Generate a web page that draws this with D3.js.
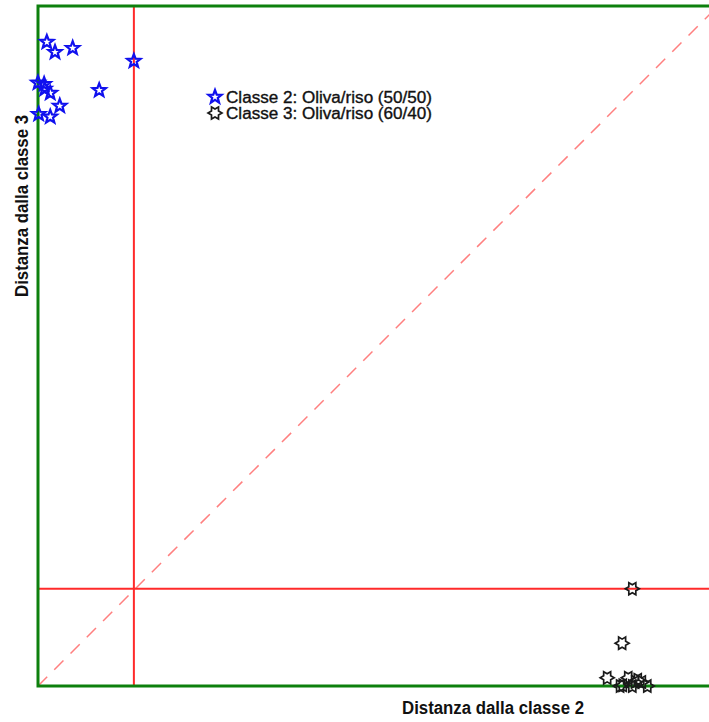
<!DOCTYPE html>
<html lang="it">
<head>
    <meta charset="UTF-8">
    <script src="https://cdn.jsdelivr.net/npm/d3@7"></script>
    <title>Distanza dalle classi</title>
    <style>
        html,
        body {
            margin: 0px;
            padding: 0px;
            background-color: #ffffff;
            font-family: "Liberation Sans", Arial, sans-serif;
        }
        svg { display: block; }
    </style>
</head>
<body>
    <div id="chart"></div>

    <script>
        // distances of the class 2 samples (x: from class 2, y: from class 3)
        let class2_x = [0.13, 0.25, 0.51, 1.41, 0.00, 0.09, 0.10, 0.18, 0.90, 0.32, 0.01, 0.18];
        let class2_y = [9.47, 9.32, 9.38, 9.19, 8.87, 8.85, 8.78, 8.72, 8.76, 8.53, 8.41, 8.37];

        // distances of the class 3 samples
        let class3_x = [8.74, 8.59, 8.37, 8.60, 8.68, 8.78, 8.88, 8.96, 8.56, 8.74, 8.82];
        let class3_y = [1.43, 0.63, 0.12, 0.01, 0.12, 0.06, 0.06, 0.00, 0.00, 0.00, 0.09];

        // critical distances
        let limit_2 = 1.41;
        let limit_3 = 1.43;

        let legend_labels = ['Classe 2: Oliva/riso (50/50)', 'Classe 3: Oliva/riso (60/40)'];

        let width = 709;
        let height = 722;

        let margin = { top: 6, left: 38, bottom: 36 };
        let side = height - margin.top - margin.bottom;   // square axes, cut off at the right

        let svg = d3.select('#chart').append('svg').attr('width', width).attr('height', height);

        let x = d3.scaleLinear().domain([0, 10]).range([margin.left, margin.left + side]);
        let y = d3.scaleLinear().domain([0, 10]).range([margin.top + side, margin.top]);

        // star outline with n points
        let star = function(n, R, ratio, start) {
            let pts = [];
            for (let i = 0; i < 2 * n; i++) {
                let a = start + i * Math.PI / n;
                let r = i % 2 === 0 ? R : R * ratio;
                pts.push([r * Math.cos(a), r * Math.sin(a)]);
            }
            return d3.line()(pts) + 'Z';
        };
        let pentagram = star(5, 7, 0.42, -Math.PI / 2);
        let hexagram = star(6, 7, 0.577, 0);

        // diagonal y = x
        svg.append('line')
            .attr('x1', x(0)).attr('y1', y(0))
            .attr('x2', x(10)).attr('y2', y(10))
            .attr('stroke', '#ff7f7f')
            .attr('stroke-width', 1.5)
            .attr('stroke-dasharray', '13,10');

        // limits
        svg.append('line')
            .attr('x1', x(limit_2)).attr('x2', x(limit_2))
            .attr('y1', y(0)).attr('y2', y(10))
            .attr('stroke', '#ff2a2a').attr('stroke-width', 2);
        svg.append('line')
            .attr('x1', x(0)).attr('x2', x(10))
            .attr('y1', y(limit_3)).attr('y2', y(limit_3))
            .attr('stroke', '#ff2a2a').attr('stroke-width', 2);

        // frame
        svg.append('rect')
            .attr('x', x(0)).attr('y', y(10))
            .attr('width', x(10) - x(0)).attr('height', y(0) - y(10))
            .attr('fill', 'none')
            .attr('stroke', '#0d800d')
            .attr('stroke-width', 3);

        let class2 = class2_x.map((d, i) => ({ x: d, y: class2_y[i] }));
        let class3 = class3_x.map((d, i) => ({ x: d, y: class3_y[i] }));

        svg.selectAll('.c2')
            .data(class2)
            .join('path')
            .attr('class', 'c2')
            .attr('d', pentagram)
            .attr('transform', d => `translate(${x(d.x)},${y(d.y)})`)
            .attr('fill', 'none')
            .attr('stroke', '#1010ee')
            .attr('stroke-width', 2.2);

        svg.selectAll('.c3')
            .data(class3)
            .join('path')
            .attr('class', 'c3')
            .attr('d', hexagram)
            .attr('transform', d => `translate(${x(d.x)},${y(d.y)})`)
            .attr('fill', 'none')
            .attr('stroke', '#1a1a1a')
            .attr('stroke-width', 1.7);

        // legend
        let legend = svg.append('g').attr('transform', 'translate(215,97)');
        legend.append('path').attr('d', pentagram)
            .attr('fill', 'none').attr('stroke', '#1010ee').attr('stroke-width', 2.2);
        legend.append('path').attr('d', hexagram).attr('transform', 'translate(0,16)')
            .attr('fill', 'none').attr('stroke', '#1a1a1a').attr('stroke-width', 1.7);
        legend.selectAll('text')
            .data(legend_labels)
            .join('text')
            .attr('x', 11)
            .attr('y', (d, i) => 6 + i * 16)
            .attr('font-size', '16px')
            .attr('textLength', 206)
            .attr('lengthAdjust', 'spacingAndGlyphs')
            .attr('fill', '#111')
            .attr('stroke', '#111')
            .attr('stroke-width', 0.35)
            .text(d => d);

        // axis labels
        svg.append('text')
            .attr('x', 493).attr('y', 714)
            .attr('text-anchor', 'middle')
            .attr('font-weight', 'bold')
            .attr('font-size', '18px')
            .attr('textLength', 182)
            .attr('lengthAdjust', 'spacingAndGlyphs')
            .attr('fill', '#111')
            .text('Distanza dalla classe 2');

        svg.append('text')
            .attr('transform', 'translate(28,206) rotate(-90)')
            .attr('text-anchor', 'middle')
            .attr('font-weight', 'bold')
            .attr('font-size', '18px')
            .attr('textLength', 182)
            .attr('lengthAdjust', 'spacingAndGlyphs')
            .attr('fill', '#111')
            .text('Distanza dalla classe 3');
    </script>
</body>
</html>
